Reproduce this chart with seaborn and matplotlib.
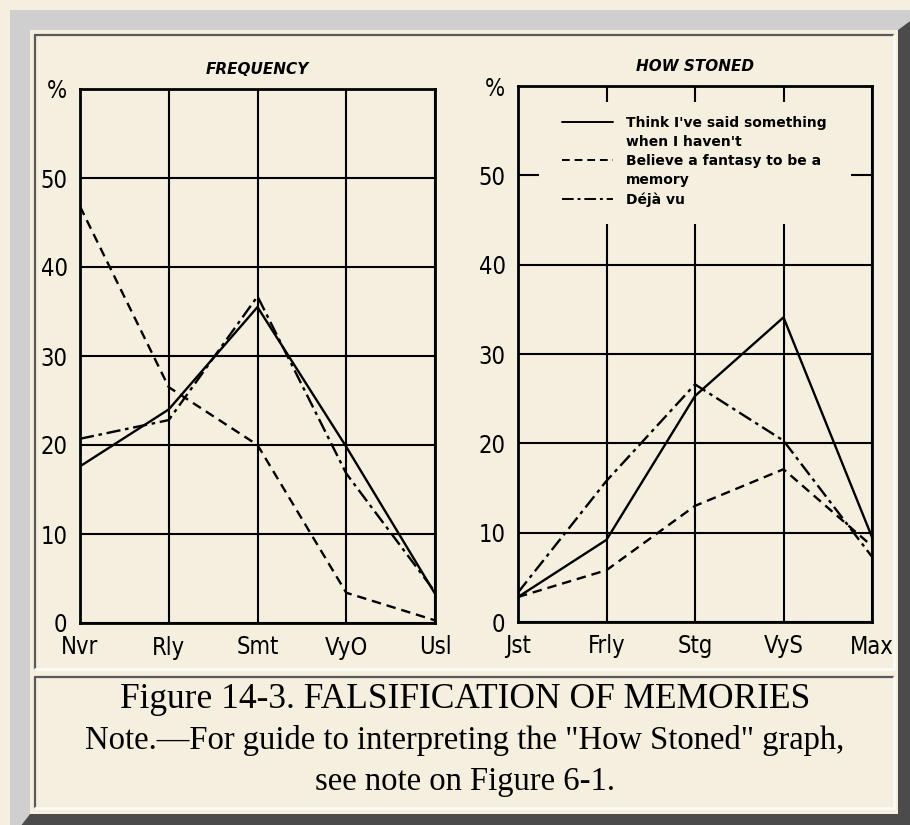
import numpy as np
import pandas as pd
import matplotlib
matplotlib.use("Agg")
import matplotlib.pyplot as plt
import seaborn as sns
from matplotlib.patches import Polygon, Rectangle

# data (percent)
freq_cats = ["Nvr", "Rly", "Smt", "VyO", "Usl"]
stoned_cats = ["Jst", "Frly", "Stg", "VyS", "Max"]
series_names = ["Think I've said something\nwhen I haven't",
                "Believe a fantasy to be a\nmemory",
                "Déjà vu"]

freq_said = [17.6, 24, 35.5, 19.8, 3.3]
freq_fantasy = [46.8, 26.5, 20, 3.4, 0.3]
freq_deja = [20.7, 22.8, 36.7, 16.8, 3.5]

stoned_said = [2.8, 9.2, 25.3, 34.1, 9.5]
stoned_fantasy = [2.8, 5.8, 13, 17.1, 8.5]
stoned_deja = [3.3, 15.8, 26.6, 20.3, 7.3]

yticks = [0, 10, 20, 30, 40, 50, 60]
ytick_labels = ["0", "10", "20", "30", "40", "50", "%"]

BG = "#f5efe0"
W, H = 910, 825

sns.set_style("white")
plt.rcParams["font.family"] = ["DejaVu Sans"]
plt.rcParams["text.color"] = "black"
plt.rcParams["xtick.color"] = "black"
plt.rcParams["ytick.color"] = "black"


def fx(x):
    return x / W


def fy(y):
    return 1 - y / H


def long_df(cats, a, b, c):
    rows = []
    for name, vals in zip(series_names, [a, b, c]):
        for i, (cat, v) in enumerate(zip(cats, vals)):
            rows.append({"pos": i, "cat": cat, "value": v, "series": name})
    return pd.DataFrame(rows)


fig = plt.figure(figsize=(W / 100, H / 100), dpi=100)
fig.patch.set_facecolor(BG)

# bevelled frame
light = [(10, 10), (925, 10), (898, 30), (30, 30), (30, 814), (10, 840)]
dark = [(925, 10), (925, 840), (10, 840), (30, 814), (898, 814), (898, 30)]
fig.patches.append(Polygon([(fx(x), fy(y)) for x, y in light], closed=True,
                           transform=fig.transFigure, facecolor="#cfcfcf", edgecolor="none"))
fig.patches.append(Polygon([(fx(x), fy(y)) for x, y in dark], closed=True,
                           transform=fig.transFigure, facecolor="#4b4b4b", edgecolor="none"))

for (x0, y0, x1, y1) in [(35, 35, 894, 669), (35, 677, 894, 808)]:
    fig.add_artist(plt.Line2D([fx(x0), fx(x1)], [fy(y0), fy(y0)], color="#5a5a5a", lw=1.6))
    fig.add_artist(plt.Line2D([fx(x0), fx(x0)], [fy(y0), fy(y1)], color="#5a5a5a", lw=1.6))
    fig.add_artist(plt.Line2D([fx(x0), fx(x1)], [fy(y1), fy(y1)], color="#fdfbf5", lw=2))
    fig.add_artist(plt.Line2D([fx(x1), fx(x1)], [fy(y0), fy(y1)], color="#fdfbf5", lw=2))

tick_font = {"family": "DejaVu Sans", "stretch": "condensed", "size": 17}
dashes = ["", (4, 2.5), (6, 2, 1.5, 2)]


def draw_panel(rect, df, cats, title):
    ax = fig.add_axes(rect)
    ax.set_facecolor("none")
    sns.lineplot(data=df, x="pos", y="value", style="series", dashes=dashes,
                 color="black", linewidth=1.7, ax=ax, legend=False)
    ax.set_xlim(0, 4)
    ax.set_ylim(0, 60)
    ax.set_xticks(range(len(cats)))
    ax.set_xticklabels(cats, fontdict=tick_font)
    ax.set_yticks(yticks)
    ax.set_yticklabels(ytick_labels, fontdict=tick_font)
    ax.tick_params(length=0, pad=9)
    ax.grid(True, color="black", linewidth=1.5)
    ax.set_axisbelow(True)
    for s in ax.spines.values():
        s.set_color("black")
        s.set_linewidth(2)
    ax.set_xlabel("")
    ax.set_ylabel("")
    ax.set_title(title, fontsize=11, fontweight="bold", style="italic", pad=11)
    return ax


ax1 = draw_panel([fx(80), fy(623), fx(435) - fx(80), fy(89) - fy(623)],
                 long_df(freq_cats, freq_said, freq_fantasy, freq_deja),
                 freq_cats, "FREQUENCY")
ax2 = draw_panel([fx(518), fy(622), fx(872) - fx(518), fy(86) - fy(622)],
                 long_df(stoned_cats, stoned_said, stoned_fantasy, stoned_deja),
                 stoned_cats, "HOW STONED")

# legend box masks the grid in the right panel
ax2.add_patch(Rectangle((0.059, 0.743), 0.881, 0.227, transform=ax2.transAxes,
                        facecolor=BG, edgecolor="none", zorder=1))
styles = ["-", (0, (4, 2.5)), (0, (6, 2, 1.5, 2))]
handles, labels = [], []
for name, ls in zip(series_names, styles):
    for k, part in enumerate(name.split("\n")):
        if k == 0:
            handles.append(plt.Line2D([], [], color="black", lw=1.4, linestyle=ls))
        else:
            handles.append(plt.Line2D([], [], color="none", lw=0))
        labels.append(part)
leg = ax2.legend(handles, labels, loc="upper left", bbox_to_anchor=(0.088, 0.968),
                 frameon=False, handlelength=3.7, handletextpad=0.9, labelspacing=0.38,
                 prop={"size": 10, "weight": "bold"})
leg.set_zorder(5)

# caption, centred in the lower panel
cx = fx(465)
fig.text(cx, fy(700), "Figure 14-3. FALSIFICATION OF MEMORIES", ha="center", va="center",
         family="Liberation Serif", fontsize=25.5)
fig.text(cx, fy(741), 'Note.\u2014For guide to interpreting the "How Stoned" graph,',
         ha="center", va="center", family="Liberation Serif", fontsize=23.5)
fig.text(cx, fy(782), "see note on Figure 6-1.", ha="center", va="center",
         family="Liberation Serif", fontsize=23.5)

fig.savefig("out.png", dpi=100, facecolor=BG)
